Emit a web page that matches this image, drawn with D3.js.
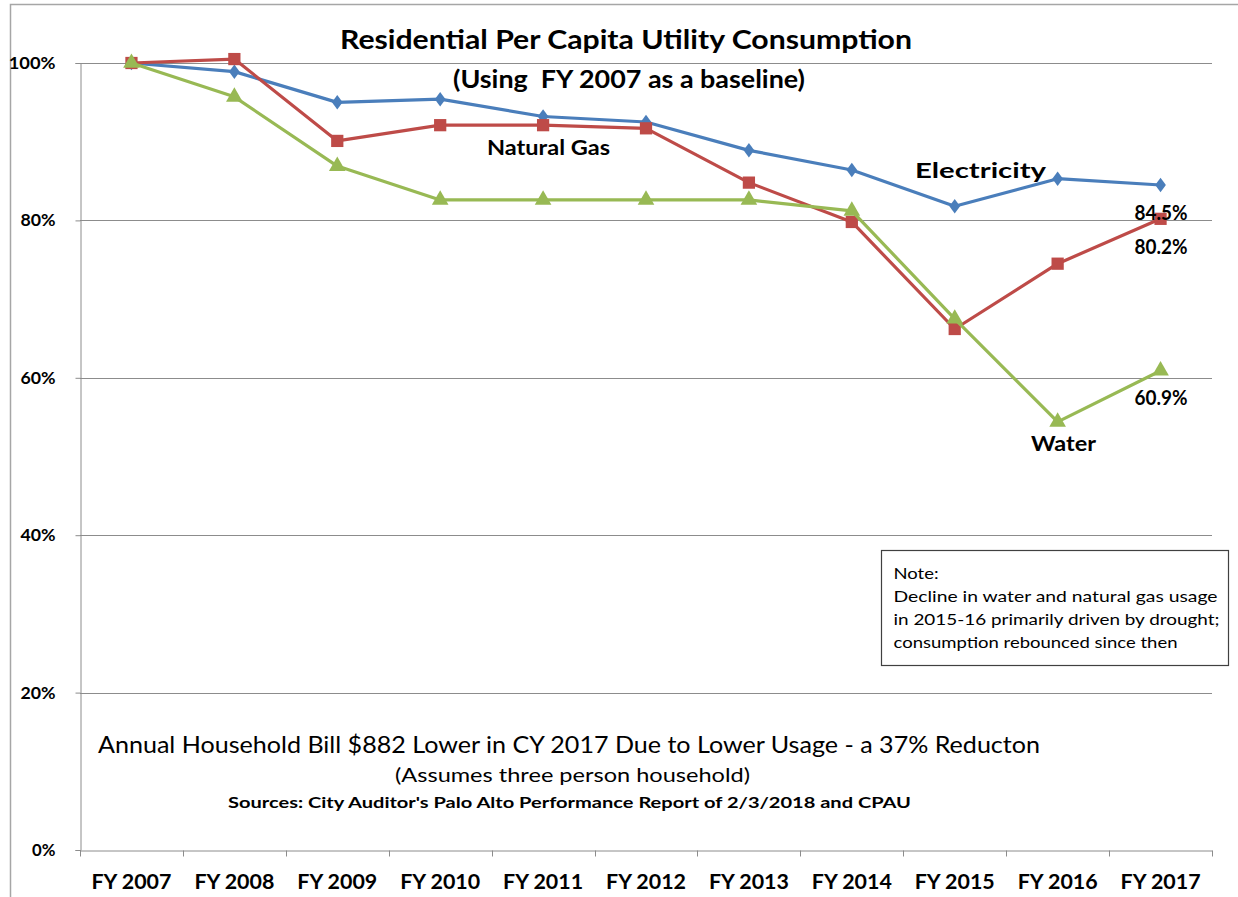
<!DOCTYPE html>
<html>
<head>
  <title>Residential Per Capita Utility Consumption</title>
  <script src="https://d3js.org/d3.v7.min.js"></script>
  <style>
    body { margin: 0; background: #fff; }
    text { font-family: Lato, "Open Sans", sans-serif; fill: #000; }
  </style>
</head>
<body>
  <script>
    // data (share of FY 2007 usage)
    var years = ['FY 2007', 'FY 2008', 'FY 2009', 'FY 2010', 'FY 2011', 'FY 2012',
                 'FY 2013', 'FY 2014', 'FY 2015', 'FY 2016', 'FY 2017'];
    var electricity = [1.000, 0.989, 0.950, 0.954, 0.932, 0.925, 0.889, 0.864, 0.818, 0.853, 0.845];
    var naturalGas  = [1.000, 1.005, 0.901, 0.921, 0.921, 0.917, 0.848, 0.798, 0.662, 0.745, 0.802];
    var water       = [1.000, 0.957, 0.869, 0.826, 0.826, 0.826, 0.826, 0.812, 0.675, 0.544, 0.609];
    var yTicks = [0, 0.2, 0.4, 0.6, 0.8, 1.0];

    var width = 1238;
    var height = 897;

    var svg = d3.select('body')
          .append('svg')
          .attr('width', width)
          .attr('height', height);

    // the source picture is a bit stretched sideways, so squeeze text to its width
    function fit(sel, w) {
      return sel.attr('textLength', w).attr('lengthAdjust', 'spacingAndGlyphs');
    }

    // outer frame of the pasted chart
    svg.append('path')
        .attr('d', 'M10.5,' + height + 'V4.5H' + width)
        .attr('fill', 'none')
        .attr('stroke', '#a6a6a6')
        .attr('stroke-width', 1.5);

    var x = d3.scaleBand()
          .domain(years)
          .range([80, 1212]);

    var y = d3.scaleLinear()
          .domain([0, 1])
          .range([850, 63]);

    // gridlines
    svg.append('g')
        .selectAll('line')
        .data(yTicks.filter(function (d) { return d > 0; }))
        .enter()
        .append('line')
        .attr('x1', 80).attr('x2', 1212)
        .attr('y1', function (d) { return Math.round(y(d)) + 0.5; })
        .attr('y2', function (d) { return Math.round(y(d)) + 0.5; })
        .attr('stroke', '#8c8c8c')
        .attr('stroke-width', 1);

    // y axis
    var yAxis = svg.append('g')
        .attr('transform', 'translate(80.5,0)')
        .call(d3.axisLeft(y).tickValues(yTicks).tickSize(5).tickPadding(20)
              .tickFormat(d3.format('.0%')));
    yAxis.selectAll('text')
        .attr('font-size', 17)
        .attr('font-weight', 'bold')
        .style('font-family', 'Lato, sans-serif')
        .each(function (d) { fit(d3.select(this), d3.format('.0%')(d).length * 11.7); });

    // x axis with ticks at category boundaries
    var xAxis = svg.append('g')
        .attr('transform', 'translate(0,850.5)')
        .call(d3.axisBottom(x).tickSize(0).tickPadding(24));
    xAxis.selectAll('text')
        .attr('font-size', 21)
        .attr('font-weight', 'bold')
        .style('font-family', 'Lato, sans-serif')
        .attr('textLength', 80)
        .attr('lengthAdjust', 'spacingAndGlyphs');
    xAxis.selectAll('.bounds')
        .data(years.concat(['end']))
        .enter()
        .append('line')
        .attr('x1', function (d, i) { return Math.round(80 + i * x.step()) + 0.5; })
        .attr('x2', function (d, i) { return Math.round(80 + i * x.step()) + 0.5; })
        .attr('y1', 0).attr('y2', 6)
        .attr('stroke', '#8c8c8c');
    svg.selectAll('.domain, .tick line').attr('stroke', '#8c8c8c');

    // series
    var series = [
      { name: 'Electricity', values: electricity, color: '#4a7ebb', symbol: d3.symbolDiamond, size: 75 },
      { name: 'Natural Gas', values: naturalGas, color: '#be4b48', symbol: d3.symbolSquare, size: 150 },
      { name: 'Water', values: water, color: '#98b954', symbol: d3.symbolTriangle, size: 120 }
    ];

    var line = d3.line()
          .x(function (d, i) { return x(years[i]) + x.bandwidth() / 2; })
          .y(function (d) { return y(d); });

    series.forEach(function (s) {
      var g = svg.append('g');
      g.append('path')
          .attr('d', line(s.values))
          .attr('fill', 'none')
          .attr('stroke', s.color)
          .attr('stroke-width', 3.2)
          .attr('stroke-linejoin', 'round');
      g.selectAll('path.mark')
          .data(s.values)
          .enter()
          .append('path')
          .attr('class', 'mark')
          .attr('transform', function (d, i) {
            var sx = s.symbol === d3.symbolDiamond ? 'scale(1.15,0.9)' : '';
            return 'translate(' + (x(years[i]) + x.bandwidth() / 2) + ',' + y(d) + ')' + sx;
          })
          .attr('d', d3.symbol().type(s.symbol).size(s.size))
          .attr('fill', s.color);
    });

    // titles
    fit(svg.append('text')
        .attr('x', 340).attr('y', 49)
        .attr('font-size', 26).attr('font-weight', 'bold')
        .text('Residential Per Capita Utility Consumption'), 572);
    fit(svg.append('text')
        .attr('x', 453).attr('y', 88)
        .attr('font-size', 24).attr('font-weight', 'bold')
        .attr('xml:space', 'preserve')
        .text('(Using  FY 2007 as a baseline)'), 352);

    // series labels and end values
    var last = years.length - 1;
    var endX = x(years[last]) + x.bandwidth() / 2;
    var label = function (sel, w) { return fit(sel.attr('font-size', 20).attr('font-weight', 'bold'), w); };
    label(svg.append('text').attr('x', 487).attr('y', 155).text('Natural Gas'), 123);
    label(svg.append('text').attr('x', 915).attr('y', 178).text('Electricity'), 131);
    label(svg.append('text').attr('x', 1031).attr('y', 451).text('Water'), 65);
    label(svg.append('text').attr('x', endX - 26).attr('y', y(electricity[last]) + 35)
        .text(d3.format('.1%')(electricity[last])), 53);
    label(svg.append('text').attr('x', endX - 26).attr('y', y(naturalGas[last]) + 35)
        .text(d3.format('.1%')(naturalGas[last])), 53);
    label(svg.append('text').attr('x', endX - 26).attr('y', y(water[last]) + 34)
        .text(d3.format('.1%')(water[last])), 53);

    // note box
    var note = svg.append('g').attr('transform', 'translate(881.5,550.5)');
    note.append('rect')
        .attr('width', 347).attr('height', 115)
        .attr('fill', '#fff')
        .attr('stroke', '#404040')
        .attr('stroke-width', 1.2);
    var noteLines = ['Note:', 'Decline in water and natural gas usage',
                     'in 2015-16 primarily driven by drought;', 'consumption rebounced since then'];
    var noteWidths = [45, 324, 326, 284];
    note.selectAll('text')
        .data(noteLines)
        .enter()
        .append('text')
        .attr('x', 12)
        .attr('y', function (d, i) { return 28 + i * 23.3; })
        .attr('font-size', 16)
        .attr('textLength', function (d, i) { return noteWidths[i]; })
        .attr('lengthAdjust', 'spacingAndGlyphs')
        .text(function (d) { return d; });

    // bottom notes
    fit(svg.append('text')
        .attr('x', 98).attr('y', 753)
        .attr('font-size', 23)
        .text('Annual Household Bill $882 Lower in CY 2017 Due to Lower Usage - a 37% Reducton'), 942);
    fit(svg.append('text')
        .attr('x', 395).attr('y', 782)
        .attr('font-size', 20)
        .text('(Assumes three person household)'), 355);
    fit(svg.append('text')
        .attr('x', 228).attr('y', 808)
        .attr('font-size', 15).attr('font-weight', 'bold')
        .text("Sources: City Auditor's Palo Alto Performance Report of 2/3/2018 and CPAU"), 683);
  </script>
</body>
</html>
